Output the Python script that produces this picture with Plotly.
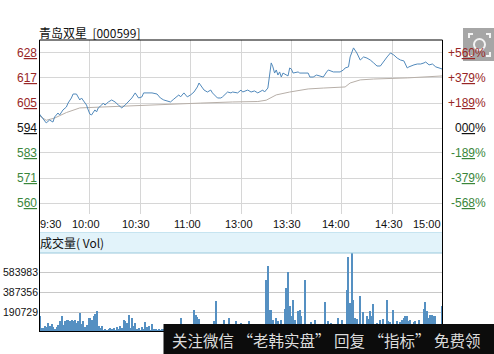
import plotly.graph_objects as go

W, H = 494, 354

# ---------------- data ----------------
price_minutes = [0,2,4,6,8,9,11,12,14,16,17,19,20,22,23,24,25,27,28,29,30,31,32,33,34,35,37,38,39,41,43,45,47,49,51,53,55,57,58,59,
                 61,62,64,67,70,72,74,76,78,80,82,83,84,86,88,90,92,94,95,97,98,100,102,103,106,108,109,112,114,115,118,
                 120,121,124,126,128,130,133,134,136,137,138,139,140,141,142,143,144,145,148,149,150,151,154,155,157,160,
                 161,163,165,167,169,171,172,175,179,181,182,184,185,187,189,191,193,195,197,199,201,203,205,207,209,211,
                 213,215,217,219,220,221,223,225,227,229,230,232,234,236,238,240]
price_values = [6.003,5.985,5.963,5.976,5.967,5.990,6.008,5.999,6.022,6.035,6.053,6.076,6.094,6.094,6.081,6.067,6.076,6.058,6.044,6.022,
                6.003,5.999,6.013,6.022,6.013,6.031,6.044,6.053,6.044,6.058,6.067,6.058,6.044,6.031,6.044,6.058,6.076,6.099,6.090,6.076,
                6.081,6.099,6.099,6.099,6.094,6.076,6.067,6.062,6.058,6.071,6.081,6.090,6.081,6.099,6.081,6.090,6.103,6.126,6.144,6.126,
                6.112,6.103,6.112,6.099,6.076,6.076,6.081,6.103,6.099,6.103,6.099,
                6.112,6.103,6.112,6.103,6.108,6.099,6.112,6.103,6.121,6.171,6.235,6.217,6.189,6.203,6.180,6.194,6.171,6.189,6.176,6.212,
                6.207,6.189,6.194,6.189,6.189,6.189,6.171,6.171,6.180,6.176,6.171,6.194,6.203,6.194,6.194,6.203,6.212,6.217,6.262,6.303,
                6.280,6.248,6.262,6.257,6.248,6.235,6.221,6.221,6.244,6.262,6.280,6.271,6.257,6.248,6.244,6.212,6.217,6.221,6.226,6.230,
                6.230,6.235,6.239,6.226,6.230,6.217,6.212,6.207]

avg_minutes = [0,4,9,16,24,36,60,96,115,120,130,135,138,141,149,160,169,182,185,191,199,219,240]
avg_values = [5.995,5.975,5.985,6.010,6.031,6.035,6.044,6.053,6.058,6.058,6.060,6.066,6.078,6.090,6.103,6.117,6.121,6.126,6.144,6.158,6.162,6.167,6.176]

vol_minutes = list(range(0, 75)) + [84,92,93,94,95,104,105,110,113,117,120,125,135,136,137,138,139,141,142,144,146,147,148,149,150,
                                    151,152,154,155,156,158,162,164,170,172,174,178,180,183,184,185,186,187,188,189,191,193,195,196,197,
                                    198,199,201,203,205,207,208,209,211,213,215,216,217,218,219,220,221,223,224,226,229,230,231,232,233,
                                    234,235,236,240]
vol_thousands = [147,33,33,56,40,82,49,75,43,23,43,60,98,147,66,98,108,115,98,108,105,115,82,98,180,75,98,43,60,131,
                 131,115,147,173,203,56,33,49,16,23,16,23,30,23,33,16,43,26,49,30,108,98,82,164,33,131,49,82,23,33,
                 16,43,23,89,43,56,16,75,23,23,16,23,16,23,23,
                 131,206,164,141,121,105,303,115,131,98,82,105,508,646,213,213,115,131,98,115,219,426,580,246,147,
                 311,115,197,206,154,501,89,115,285,98,82,131,115,410,731,278,770,311,131,121,344,187,154,121,197,
                 147,272,82,108,121,311,98,89,206,98,89,108,131,147,154,98,108,89,105,108,219,285,197,131,164,
                 164,154,147,252]
vol_values = [v * 1000 for v in vol_thousands]

price_ticks = [6.280, 6.167, 6.053, 5.940, 5.827, 5.713, 5.600]
price_labels = ["628", "617", "605", "594", "583", "571", "560"]
pct_labels = ["+560%", "+379%", "+189%", "000%", "-189%", "-379%", "-568%"]

time_minutes = [0, 30, 60, 90, 120, 150, 180, 210, 240]
time_labels = ["9:30", "10:00", "10:30", "11:00", "13:00", "13:30", "14:00", "14:30", "15:00"]

vol_ticks = [583983, 387356, 190729]
vol_labels = ["583983", "387356", "190729"]

title_text = "青岛双星  [000599]"
vol_title = "成交量( Vol)"
banner_text = "关注微信 “老韩实盘” 回复 “指标” 免费领"

# ---------------- layout helpers ----------------
def px(x):
    return x / W

def py(y):
    return 1 - y / H

L, R = 39.5, 442.5
P_TOP, P_BOT = 40, 214
V_TOP, V_BOT = 253, 332

RED = "#982626"
GREEN = "#3a863a"
NUMFONT = "Liberation Sans, Arial, sans-serif"
CJK = "Noto Sans CJK SC, sans-serif"

fig = go.Figure()
fig.add_trace(go.Scatter(x=avg_minutes, y=avg_values, mode="lines",
                         line=dict(color="#b7afa8", width=1), xaxis="x", yaxis="y", hoverinfo="skip"))
fig.add_trace(go.Scatter(x=price_minutes, y=price_values, mode="lines",
                         line=dict(color="#5189bb", width=1), xaxis="x", yaxis="y", hoverinfo="skip"))
fig.add_trace(go.Bar(x=vol_minutes, y=vol_values, width=0.7, marker=dict(color="#5590c2", line=dict(width=0)),
                     xaxis="x2", yaxis="y2", hoverinfo="skip"))

annotations = []
for v, lab in zip(price_ticks, price_labels):
    col = RED if v > 5.95 else ("#111111" if abs(v - 5.94) < 0.01 else GREEN)
    annotations.append(dict(x=px(36.5), xref="paper", y=v, yref="y", xanchor="right", yanchor="middle",
                            text=lab[0] + "<u>" + lab[1:] + "</u>", showarrow=False,
                            font=dict(family=NUMFONT, size=12, color=col), borderpad=0, borderwidth=0))
for v, lab in zip(price_ticks, pct_labels):
    col = RED if v > 5.95 else ("#111111" if abs(v - 5.94) < 0.01 else GREEN)
    annotations.append(dict(x=px(486), xref="paper", y=v, yref="y", xanchor="right", yanchor="middle",
                            text=lab[:-3] + "<u>" + lab[-3:-1] + "</u>" + "%", showarrow=False,
                            font=dict(family=NUMFONT, size=12, color=col), borderpad=0, borderwidth=0))
shifts = [0, -4, -4, -3, -2, -4, -6, -3, -2]
for m, lab, s in zip(time_minutes, time_labels, shifts):
    anchor = "left" if m == 0 else ("right" if m == 240 else "center")
    annotations.append(dict(x=m, xref="x", y=py(223.5), yref="paper", xanchor=anchor, yanchor="middle",
                            xshift=s, text=lab, showarrow=False,
                            font=dict(family=NUMFONT, size=11, color="#111111"), borderpad=0, borderwidth=0))
for v, lab in zip(vol_ticks, vol_labels):
    annotations.append(dict(x=px(37.5), xref="paper", y=v, yref="y2", xanchor="right", yanchor="middle",
                            text=lab, showarrow=False,
                            font=dict(family=NUMFONT, size=10.5, color="#111111"), borderpad=0, borderwidth=0))
annotations.append(dict(x=px(39), xref="paper", y=py(32), yref="paper", xanchor="left", yanchor="middle",
                        text=title_text, showarrow=False, font=dict(family=CJK, size=12, color="#111111"),
                        borderpad=0, borderwidth=0))
annotations.append(dict(x=px(40), xref="paper", y=py(242.5), yref="paper", xanchor="left", yanchor="middle",
                        text=vol_title, showarrow=False, font=dict(family=CJK, size=12, color="#111111"),
                        borderpad=0, borderwidth=0))
annotations.append(dict(x=px(172), xref="paper", y=py(340), yref="paper", xanchor="left", yanchor="middle",
                        text=banner_text, showarrow=False, font=dict(family=CJK, size=15.5, color="#dcdcdc"),
                        borderpad=0, borderwidth=0))

shapes = [
    # volume title band
    dict(type="rect", xref="paper", yref="paper", x0=px(L), x1=px(R), y0=py(V_TOP), y1=py(232.5),
         fillcolor="#e2f3fa", line=dict(width=0), layer="below"),
    dict(type="line", xref="paper", yref="paper", x0=px(L), x1=px(R), y0=py(253), y1=py(253),
         line=dict(color="#99c8dc", width=1)),
    dict(type="line", xref="paper", yref="paper", x0=px(L), x1=px(R), y0=py(232.5), y1=py(232.5),
         line=dict(color="#c6e4f0", width=1)),
    # frame
    dict(type="line", xref="paper", yref="paper", x0=px(L), x1=px(R), y0=py(40), y1=py(40),
         line=dict(color="#000000", width=1)),
    dict(type="line", xref="paper", yref="paper", x0=px(L), x1=px(L), y0=py(40), y1=py(332),
         line=dict(color="#000000", width=1)),
    dict(type="line", xref="paper", yref="paper", x0=px(R), x1=px(R), y0=py(40), y1=py(332),
         line=dict(color="#000000", width=1)),
    dict(type="line", xref="paper", yref="paper", x0=px(L), x1=px(R), y0=py(331.5), y1=py(331.5),
         line=dict(color="#000000", width=1)),
    # watermark banner
    dict(type="rect", xref="paper", yref="paper", x0=px(163.5), x1=px(494), y0=py(354), y1=py(324),
         fillcolor="#0c0c0c", line=dict(width=0)),
    # camera icon
    dict(type="rect", xref="paper", yref="paper", x0=px(463), x1=px(494), y0=py(61), y1=py(28),
         fillcolor="rgba(150,150,150,0.85)", line=dict(width=0)),
    dict(type="circle", xref="paper", yref="paper", x0=px(474), x1=px(485), y0=py(50), y1=py(39),
         fillcolor="rgba(0,0,0,0)", line=dict(color="#f4f4f4", width=2)),
    dict(type="path", xref="paper", yref="paper",
         path=f"M {px(469)},{py(38)} L {px(469)},{py(34)} L {px(473)},{py(34)} "
              f"M {px(486)},{py(34)} L {px(490)},{py(34)} L {px(490)},{py(38)} "
              f"M {px(469)},{py(52)} L {px(469)},{py(56)} L {px(473)},{py(56)} "
              f"M {px(486)},{py(56)} L {px(490)},{py(56)} L {px(490)},{py(52)}",
         line=dict(color="#f4f4f4", width=2)),
]

p_per_px = 0.1133 / 25
y_min = 5.94 - (P_BOT - 128) * p_per_px
y_max = 5.94 + (128 - P_TOP) * p_per_px
v_per_px = 196627 / 20
v_min = 190729 - (V_BOT - 312) * v_per_px
v_max = 583983 + (272 - V_TOP) * v_per_px

fig.update_layout(
    width=W, height=H, margin=dict(l=0, r=0, t=0, b=0),
    paper_bgcolor="white", plot_bgcolor="white", showlegend=False, bargap=0,
    xaxis=dict(domain=[px(L), px(R)], range=[0, 240], tickvals=[30, 60, 90, 120, 150, 180, 210],
               showticklabels=False, showgrid=True, gridcolor="#d6d6d6", gridwidth=1, zeroline=False,
               showline=False, ticks="", anchor="y"),
    yaxis=dict(domain=[py(P_BOT), py(P_TOP)], range=[y_min, y_max], tickvals=price_ticks,
               showticklabels=False, showgrid=True, gridcolor="#d6d6d6", gridwidth=1, zeroline=False,
               showline=False, ticks="", anchor="x"),
    xaxis2=dict(domain=[px(L), px(R)], range=[0, 240.5], showticklabels=False, showgrid=False,
                zeroline=False, showline=False, ticks="", anchor="y2"),
    yaxis2=dict(domain=[py(V_BOT), py(V_TOP)], range=[v_min, v_max], tickvals=vol_ticks,
                showticklabels=False, showgrid=True, gridcolor="#c8c8c8", gridwidth=1, zeroline=False,
                showline=False, ticks="", anchor="x2"),
    annotations=annotations, shapes=shapes,
)

fig.write_html("out.html")
